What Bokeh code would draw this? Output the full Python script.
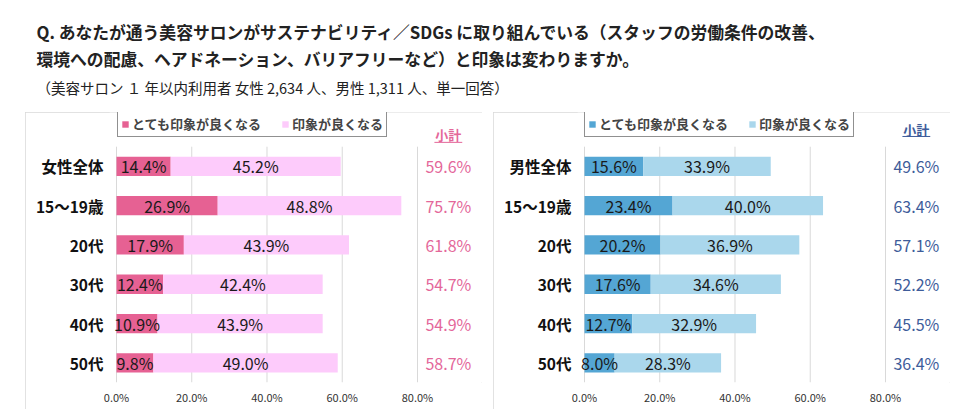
from bokeh.plotting import figure
from bokeh.models import (Range1d, FixedTicker, PrintfTickFormatter,
                          Label, Legend, ColumnDataSource, Spacer)
from bokeh.layouts import column, row
from bokeh.core.properties import value
from bokeh.embed import file_html
from bokeh.resources import INLINE

FONT = "Noto Sans CJK JP"

title_line1 = "Q.  あなたが通う美容サロンがサステナビリティ／SDGs に取り組んでいる（スタッフの労働条件の改善、"
title_line2 = "環境への配慮、ヘアドネーション、バリアフリーなど）と印象は変わりますか。"
subtitle = "（美容サロン １ 年以内利用者   女性 2,634 人、男性 1,311 人、単一回答）"

series_names = ["とても印象が良くなる", "印象が良くなる"]
subtotal_header = "小計"

female_categories = ["女性全体", "15～19歳", "20代", "30代", "40代", "50代"]
female_very = [14.4, 26.9, 17.9, 12.4, 10.9, 9.8]
female_good = [45.2, 48.8, 43.9, 42.4, 43.9, 49.0]
female_subtotal = [59.6, 75.7, 61.8, 54.7, 54.9, 58.7]

male_categories = ["男性全体", "15～19歳", "20代", "30代", "40代", "50代"]
male_very = [15.6, 23.4, 20.2, 17.6, 12.7, 8.0]
male_good = [33.9, 40.0, 36.9, 34.6, 32.9, 28.3]
male_subtotal = [49.6, 63.4, 57.1, 52.2, 45.5, 36.4]

x_ticks = [0, 20, 40, 60, 80]

# layout constants (in axis units)
X_START = -1.86     # a little room left of 0% so narrow-bar labels are not clipped
X_END = 97.28       # frame extends past 80% to hold the subtotal column
SUB_X = 88.2        # centre of the subtotal column
Y_TOP = 6.37        # frame extends above the first row to hold the legend
UL_HALF = 3.7       # half width of the header underline
UL_DROP = 0.19      # underline distance below the header centre


def make_panel(cats, very, good, subtotal, dark, light, sub_color, legend_x, header_y):
    n = len(cats)
    ys = list(range(n - 1, -1, -1))
    src = ColumnDataSource(dict(
        y=ys, very=very, good=good,
        very_mid=[v / 2 for v in very],
        good_mid=[v + g / 2 for v, g in zip(very, good)],
        very_txt=[f"{v:.1f}%" for v in very],
        good_txt=[f"{g:.1f}%" for g in good],
        sub_x=[SUB_X] * n,
        sub_txt=[f"{s:.1f}%" for s in subtotal],
    ))
    p = figure(width=457, height=297,
               y_range=Range1d(-0.5, Y_TOP), x_range=Range1d(X_START, X_END),
               output_backend="svg", toolbar_location=None,
               min_border_left=84, min_border_right=0, min_border_top=0, min_border_bottom=27)
    p.outline_line_color = None
    p.xgrid.grid_line_color = None
    p.ygrid.grid_line_color = None

    # vertical grid lines over the bar area only
    p.segment(x0=x_ticks, y0=[-0.5] * len(x_ticks), x1=x_ticks, y1=[n - 0.5] * len(x_ticks),
              line_color="#d9d9d9", line_width=1)

    rs = p.hbar_stack(["very", "good"], y="y", height=0.49, color=[dark, light],
                      line_color=None, source=src)
    for xcol, tcol in (("very_mid", "very_txt"), ("good_mid", "good_txt")):
        p.text(x=xcol, y="y", text=tcol, source=src, text_align="center",
               text_baseline="middle", text_font=value(FONT), text_font_size="16px",
               text_color="#1a1a1a")
    p.text(x="sub_x", y="y", text="sub_txt", source=src, text_align="center",
           text_baseline="middle", text_font=value(FONT), text_font_size="16px",
           text_color=sub_color)

    # subtotal header with underline
    p.text(x=[SUB_X], y=[header_y], text=[subtotal_header], text_align="center",
           text_baseline="middle", text_font=value(FONT), text_font_style="bold",
           text_font_size="13px", text_color=sub_color)
    p.segment(x0=[SUB_X - UL_HALF], y0=[header_y - UL_DROP],
              x1=[SUB_X + UL_HALF], y1=[header_y - UL_DROP],
              line_color=sub_color, line_width=1)

    xa = p.xaxis[0]
    xa.ticker = FixedTicker(ticks=x_ticks)
    xa.formatter = PrintfTickFormatter(format="%.1f%%")
    xa.axis_line_color = None
    xa.major_tick_line_color = None
    xa.minor_tick_line_color = None
    xa.major_tick_out = 0
    xa.major_tick_in = 0
    xa.major_label_standoff = 6
    xa.major_label_text_font = FONT
    xa.major_label_text_font_size = "11px"
    xa.major_label_text_color = "#333333"

    ya = p.yaxis[0]
    ya.ticker = FixedTicker(ticks=ys)
    ya.major_label_overrides = {y: c for y, c in zip(ys, cats)}
    ya.axis_line_color = None
    ya.major_tick_line_color = None
    ya.minor_tick_line_color = None
    ya.major_tick_out = 0
    ya.major_tick_in = 0
    ya.major_label_standoff = 6
    ya.major_label_text_font = FONT
    ya.major_label_text_font_style = "bold"
    ya.major_label_text_font_size = "15.5px"
    ya.major_label_text_color = "#111111"

    legend = Legend(items=[(series_names[0], [rs[0]]), (series_names[1], [rs[1]])],
                    orientation="horizontal", location=(legend_x, 245),
                    border_line_color="#222222", border_line_width=1,
                    background_fill_color="white", background_fill_alpha=1,
                    padding=3, spacing=20, margin=0,
                    glyph_width=8, glyph_height=8, label_standoff=3,
                    label_text_font=FONT, label_text_font_style="bold",
                    label_text_font_size="13px", label_height=14)
    p.add_layout(legend)

    p.styles = {"outline": "1px solid #d9d9d9", "outline-offset": "-1px"}
    return p


tp = figure(width=964, height=104, x_range=Range1d(0, 1), y_range=Range1d(0, 1),
            output_backend="svg", toolbar_location=None, min_border=0,
            x_axis_type=None, y_axis_type=None)
tp.grid.visible = False
tp.outline_line_color = None
for txt, yy, size, style in ((title_line1, 81, "16.8px", "bold"),
                             (title_line2, 54, "16.8px", "bold"),
                             (subtitle, 25, "14.5px", "normal")):
    tp.add_layout(Label(x=36, y=yy, x_units="screen", y_units="screen", text=txt,
                        text_baseline="middle", text_font=FONT, text_font_style=style,
                        text_font_size=size, text_color="#222222"))

left = make_panel(female_categories, female_very, female_good, female_subtotal,
                  "#e66193", "#fdcbfb", "#e4679a", 8, 5.8)
right = make_panel(male_categories, male_very, male_good, male_subtotal,
                   "#54a6d4", "#aad7ec", "#3e5c9a", 7, 5.95)

layout = column(Spacer(width=964, height=8), tp,
                row(Spacer(width=25, height=297), left, Spacer(width=11, height=297), right))

open("out.html", "w").write(file_html(layout, INLINE))
